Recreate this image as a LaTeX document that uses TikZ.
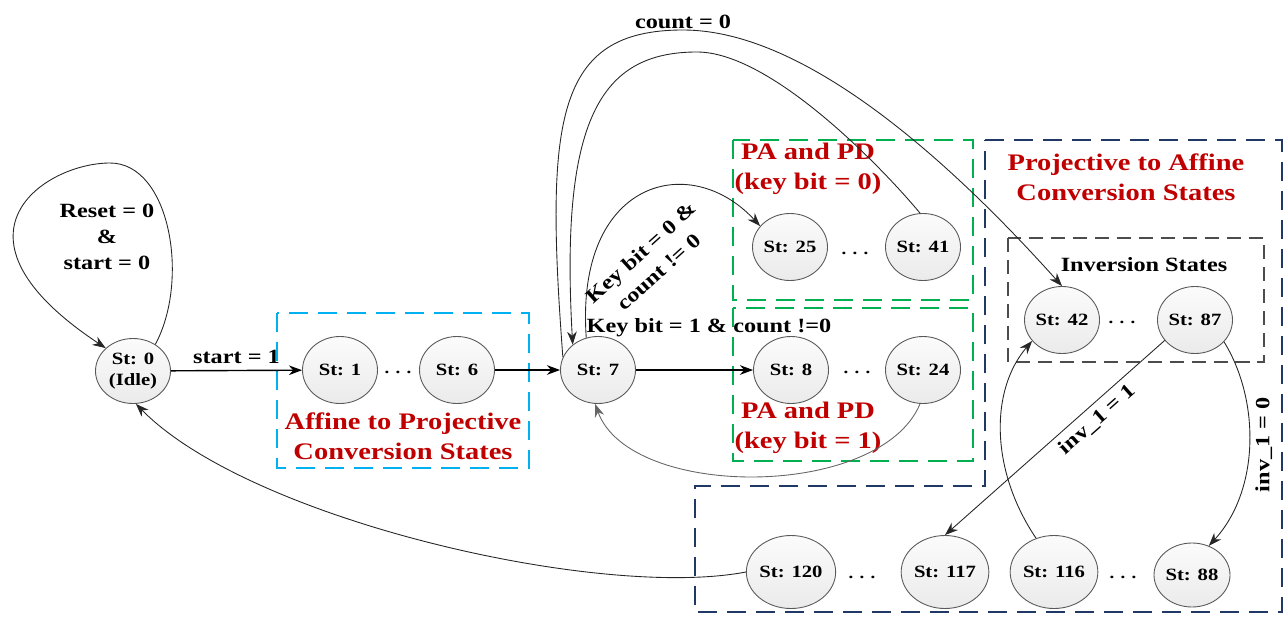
\documentclass[tikz,border=0pt]{standalone}
\usepackage{fontspec}
\setmainfont{Liberation Serif}[FakeStretch=1.2]
\usetikzlibrary{arrows.meta,shapes.geometric}
\definecolor{stred}{RGB}{192,0,0}
\definecolor{boxcyan}{RGB}{0,176,240}
\definecolor{boxgreen}{RGB}{0,176,80}
\definecolor{boxnavy}{RGB}{31,56,100}
\tikzset{
  stnode/.style={ellipse, draw=black!65, line width=0.5pt, top color=gray!3, bottom color=gray!16,
    minimum width=1.5cm, minimum height=1.34cm, inner sep=0pt, align=center,
    font=\fontsize{9.8}{11.5}\selectfont\bfseries},
  bignode/.style={stnode, minimum width=1.7cm, minimum height=1.46cm},
  trans/.style={line width=0.5pt, black!85, -{Stealth[length=7.5pt,width=5.5pt]}},
  mainarrow/.style={trans, line width=0.8pt, black},
  lbl/.style={font=\fontsize{11.5}{15}\selectfont\bfseries, align=center, text=black},
  title/.style={font=\fontsize{13.5}{17}\selectfont\bfseries, text=stred, align=center},
  dots/.style={font=\fontsize{9}{10}\selectfont\bfseries, inner sep=0pt},
  groupbox/.style={line width=1.4pt, dash pattern=on 11pt off 5.5pt},
}
\begin{document}
\begin{tikzpicture}[x=0.2mm, y=-0.2mm]
\useasboundingbox (0,0) rectangle (1286,620);
% Group boxes
\draw[groupbox, boxcyan] (277,313) rectangle (529,468);
\draw[groupbox, boxgreen] (733,140) rectangle (973,300);
\draw[groupbox, boxgreen] (733,308) rectangle (973,461);
\draw[groupbox, boxnavy] (985,140) -- (1282,140) -- (1282,612) -- (695,612) -- (695,486) -- (985,486) -- cycle;
\draw[line width=0.8pt, black!70, dash pattern=on 8pt off 4.5pt] (1008,238) rectangle (1264,362);
% Group titles
\node[title] (tAffine) at (403,436) {Affine to Projective\\Conversion States};
\node[title] (tPAzero) at (808,169) {PA and PD\\(key bit = 0)};
\node[title] (tPAone) at (808,428) {PA and PD\\(key bit = 1)};
\node[title] (tProj) at (1126,177) {Projective to Affine\\Conversion States};
\node[lbl] (tInv) at (1144,265) {Inversion States};
% States
\node[stnode, minimum height=1.3cm] (s0) at (133,371) {St: 0\\(Idle)};
\node[stnode] (s1) at (340,370) {St: 1};
\node[stnode] (s6) at (457,370) {St: 6};
\node[stnode] (s7) at (598,370) {St: 7};
\node[stnode] (s8) at (791,370) {St: 8};
\node[stnode] (s24) at (923,370) {St: 24};
\node[stnode] (s25) at (790,247) {St: 25};
\node[stnode] (s41) at (923,247) {St: 41};
\node[stnode] (s42) at (1062,320) {St: 42};
\node[stnode] (s87) at (1195,320) {St: 87};
\node[bignode] (s120) at (791,572) {St: 120};
\node[bignode] (s117) at (945,572) {St: 117};
\node[bignode] (s116) at (1054,572) {St: 116};
\node[stnode, minimum width=1.52cm, minimum height=1.28cm] (s88) at (1192,575) {St: 88};
% Dots between states
\foreach \x/\y [count=\i] in {398/372, 857/372, 855/253, 1122/322, 862/577, 1123/577}
  \node[dots] (dot\i) at (\x,\y) {. . .};
% Reset loop
\draw[trans] (s0.50) .. controls (190,280) and (170,163) .. (110,163)
  .. controls (45,163) and (-65,235) .. (s0.140);
\node[lbl] (lReset) at (107,237) {Reset = 0\\\&\\start = 0};
% Main row
\draw[mainarrow] (s0) -- node[lbl, above] (lStart) {start = 1} (s1);
\draw[mainarrow] (s6) -- (s7);
\draw[mainarrow] (s7) -- (s8);
\node[lbl] (lKeyOne) at (709,328) {Key bit = 1 \& count !=0};
% Key bit = 0
\draw[trans] (s7.110) .. controls (575,180) and (690,150) .. (s25.145);
\node[lbl, rotate=42] (lKeyZero) at (650,262) {Key bit = 0 \&\\count != 0};
% count = 0
\draw[trans] (s7.160) .. controls (545,120) and (555,30) .. (683,30)
  node[lbl, above=-3pt] (lCount) {count = 0}
  .. controls (800,30) and (940,150) .. (s42.90);
% Back to St: 7
\draw[trans] (s41.95) .. controls (880,165) and (770,52) .. (697,52)
  .. controls (600,52) and (560,120) .. (s7.135);
\draw[trans, draw=black!60] (s24.265) .. controls (880,500) and (630,500) .. (s7.265);
% Inversion
\draw[trans] (s87.214) -- node[lbl, sloped, below, pos=0.35] (lInvOne) {inv\_1 = 1} (s117.90);
\draw[trans] (s87.-37) .. controls (1260,400) and (1260,490) ..
  node[lbl, rotate=90, anchor=north, pos=0.5] (lInvZero) {inv\_1 = 0} (s88.60);
\draw[trans] (s116.118) .. controls (990,470) and (990,390) .. (s42.215);
% Back to idle
\draw[trans] (s120.180) .. controls (600,600) and (250,520) .. (s0.275);
\end{tikzpicture}
\end{document}
